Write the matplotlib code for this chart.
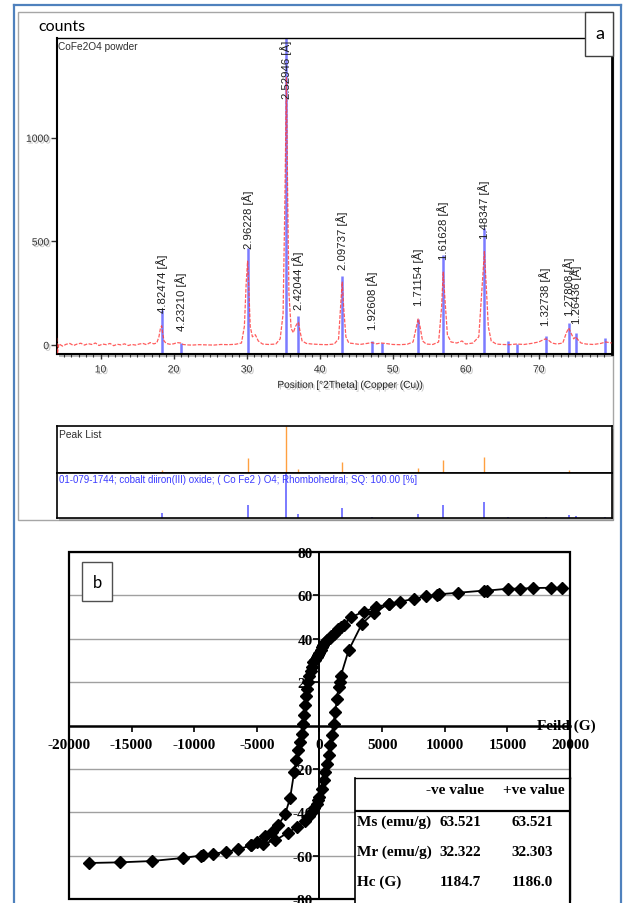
import matplotlib
matplotlib.use('Agg')
import matplotlib.pyplot as plt
import matplotlib.patheffects as pe
from matplotlib.patches import Rectangle
from matplotlib.lines import Line2D

plt.rcParams['axes.unicode_minus'] = False

# ---- panel a : XRD of CoFe2O4 powder ----
# observed pattern (2theta, counts), read off the picture
trace_2theta = [4.0, 4.1, 4.3, 4.8, 5.3, 5.8, 6.3, 6.8, 7.3, 7.8, 8.3, 8.8, 9.3, 9.8, 10.3, 10.8,
                11.3, 11.8, 12.3, 12.8, 13.3, 13.8, 14.3, 14.8, 15.3, 15.8, 16.3, 16.8, 17.3, 17.7,
                18.0, 18.2, 18.37, 18.5, 18.7, 19.0, 19.5, 20.0, 20.5, 20.98, 21.3, 21.8, 22.5, 23.5,
                24.5, 25.5, 26.5, 27.5, 28.5, 29.3, 29.7, 29.95, 30.14, 30.3, 30.5, 30.8, 31.2, 31.6,
                32.2, 33.0, 34.0, 34.6, 35.0, 35.25, 35.46, 35.6, 35.8, 36.1, 36.4, 36.7, 36.95, 37.11,
                37.3, 37.6, 38.2, 39.0, 40.0, 41.0, 42.0, 42.6, 42.9, 43.1, 43.3, 43.6, 44.0, 44.5,
                45.5, 46.5, 47.15, 47.8, 48.4, 49.0, 50.0, 51.0, 52.0, 52.8, 53.2, 53.49, 53.75, 54.1,
                54.6, 55.5, 56.3, 56.7, 56.93, 57.15, 57.5, 58.0, 58.8, 59.5, 60.0, 61.0, 61.8, 62.2,
                62.57, 62.8, 63.1, 63.5, 64.2, 65.0, 66.0, 67.0, 68.0, 69.0, 70.0, 70.6, 70.94, 71.3,
                71.8, 72.5, 73.3, 73.8, 74.12, 74.4, 74.8, 75.07, 75.4, 75.8, 76.5, 77.5, 78.5, 79.2, 80.0]
trace_counts = [35, -40, 6, -5, 4, 8, -2, 5, 9, 0, 7, 3, 10, -2, 5, 2,
                8, -3, 4, 1, 6, -2, 3, 0, 5, 8, 2, 12, 6, 10,
                40, 80, 93, 60, 20, 8, 4, 6, 12, 10, 3, 1, 0, 2,
                1, 0, 3, 2, 4, 10, 90, 300, 405, 280, 90, 40, 50, 20,
                5, 3, 5, 30, 150, 700, 1290, 800, 250, 80, 60, 90, 105, 110,
                70, 20, 8, 5, 3, 2, 5, 30, 200, 304, 180, 40, 10, 8,
                3, 8, 12, 6, 10, 8, 3, 2, 4, 15, 80, 126, 90, 20,
                5, 3, 15, 180, 352, 230, 50, 15, 10, 20, 5, 10, 40, 250,
                451, 300, 90, 20, 5, 3, 2, 5, 3, 8, 15, 25, 30, 25,
                10, 5, 10, 60, 82, 60, 30, 40, 25, 10, 5, 3, 8, 15, 10]

# labelled peaks
peak_pos = [18.37, 20.98, 30.14, 35.46, 37.11, 43.10, 47.15, 53.49, 56.93, 62.57, 70.94, 74.12, 75.07]
peak_h = [93, 10, 405, 1290, 110, 304, 12, 126, 352, 451, 30, 82, 40]
peak_d = ['4.82474', '4.23210', '2.96228', '2.52946', '2.42044', '2.09737', '1.92608',
          '1.71154', '1.61628', '1.48347', '1.32738', '1.27808', '1.26436']

# reference pattern 01-079-1744
ref_pos = [18.37, 20.98, 30.14, 35.46, 37.11, 43.10, 47.15, 48.6, 53.49, 56.93, 62.57,
           65.84, 67.0, 70.94, 74.12, 75.07, 79.1]
ref_h = [170, 8, 468, 1560, 140, 333, 21, 10, 126, 436, 565, 19, 5, 43, 106, 58, 34]

# ---- panel b : hysteresis loop ----
H_dn = [19400, 18460, 17070, 16000, 15070, 13390, 13120, 11040, 9520, 9390, 8540, 7520, 6460,
        5520, 4540, 3520, 2550, 1920, 1700, 1500, 1300, 1120, 950, 800, 620, 456, 300, 190, 90,
        0, -100, -210, -340, -480, -600, -690, -800, -880, -970, -1064, -1150, -1224, -1300,
        -1420, -1544, -1680, -1864, -2024, -2344, -2750, -3280, -3800, -4344, -5000, -5490,
        -6480, -7490, -8480, -9330, -9490, -10930, -13410, -15944, -18400]
M_dn = [63.5, 63.5, 63.4, 63.1, 63.1, 62.2, 62.2, 61.2, 60.5, 60.3, 59.6, 58.4, 57.1,
        56.1, 54.6, 52.5, 50.0, 46.5, 45.4, 44.3, 43.1, 42.0, 41.2, 40.3, 39.3, 38.4, 37.2, 36.1, 34.8,
        33.5, 32.3, 31.5, 30.3, 29.2, 27.0, 25.3, 23.0, 20.0, 17.0, 13.8, 9.5, 5.0, 0.6,
        -4.0, -7.7, -11.5, -15.8, -21.5, -33.4, -41.0, -45.8, -49.0, -51.0, -53.5, -55.3,
        -57.1, -58.3, -59.1, -59.9, -60.0, -61.1, -62.5, -63.1, -63.4]
H_up = [-5490, -4530, -3544, -2550, -1800, -1144, -800, -610, -400, -210, -100, 0, 190, 320,
        456, 590, 720, 856, 990, 1120, 1256, 1390, 1520, 1600, 1710, 2320, 3390, 4320, 5520]
M_up = [-55.3, -54.5, -53.0, -49.5, -46.8, -44.0, -41.8, -40.0, -38.2, -36.0, -34.5, -33.0, -29.2, -25.3,
        -21.5, -17.6, -13.8, -9.2, -4.6, 0.8, 6.2, 12.3, 17.7, 20.0, 23.0, 34.6, 46.9, 51.9, 56.1]

tbl_cols = ['-ve value', '+ve value']
tbl_rows = ['Ms (emu/g)', 'Mr (emu/g)', 'Hc (G)']
tbl_neg = ['63.521', '32.322', '1184.7']
tbl_pos = ['63.521', '32.303', '1186.0']

W, H = 630, 904


def fx(px):
    return px / W


def fy(py):
    return 1 - py / H


fig = plt.figure(figsize=(6.3, 9.04), dpi=100)

# outer blue frame
blue = '#4f81bd'
fig.add_artist(Line2D([fx(14), fx(14)], [fy(6), 0], color=blue, lw=1.6, zorder=5))
fig.add_artist(Line2D([fx(621), fx(621)], [fy(6), 0], color=blue, lw=1.6, zorder=5))
fig.add_artist(Line2D([fx(14), fx(621)], [fy(6), fy(6)], color=blue, lw=1.6, zorder=5))

# panel a background box
fig.add_artist(Rectangle((fx(18), fy(521)), (613 - 18) / W, (521 - 13) / H, transform=fig.transFigure,
                         fc='white', ec='#a6a6a6', lw=1, zorder=-3))
# drop shadows
for top, bot in [(39.3, 355), (427.3, 519)]:
    fig.add_artist(Rectangle((fx(59), fy(bot + 3)), 555 / W, (bot - top) / H, transform=fig.transFigure,
                             fc='#8c8c8c', ec='none', alpha=0.6, zorder=-2))

fig.text(fx(38), fy(27), 'counts', fontsize=11.5, family='Lato', ha='left', va='center')
fig.add_artist(Rectangle((fx(585), fy(57)), 28 / W, 44 / H, transform=fig.transFigure,
                         fc='white', ec='#404040', lw=1, zorder=2))
fig.text(fx(599.5), fy(34), 'a', fontsize=13, family='Lato', ha='center', va='center', zorder=3)

shadow = [pe.withSimplePatchShadow(offset=(1.2, -1.2), shadow_rgbFace='#777777', alpha=0.45)]

ax1 = fig.add_axes([fx(56.7), fy(355), 555 / W, (355 - 39.3) / H])
y_top = 1480
ax1.set_xlim(4, 80)
ax1.set_ylim(-43, y_top)
ax1.vlines(ref_pos, -43, ref_h, color='#5a5aff', lw=1.8, alpha=0.8, zorder=2)
ax1.plot(trace_2theta, trace_counts, color='#ff4040', lw=0.9, alpha=0.85,
         linestyle=(0, (3, 1.2)), zorder=3)
for x, h, d in zip(peak_pos, peak_h, peak_d):
    y = h + 65
    if y + 320 > y_top:
        ax1.text(x, y_top - 5, d + ' [Å]', rotation=90, ha='center', va='top', fontsize=8.2,
                 family='Liberation Sans', color='#202020', zorder=4)
    else:
        ax1.text(x, y, d + ' [Å]', rotation=90, ha='center', va='bottom', fontsize=8.2,
                 family='Liberation Sans', color='#202020', zorder=4)
ax1.text(0.003, 0.992, 'CoFe2O4 powder', transform=ax1.transAxes, ha='left', va='top',
         fontsize=7.3, family='Liberation Sans', color='#303030')
ax1.set_xticks(range(10, 71, 10))
ax1.set_xticks(range(5, 80), minor=True)
ax1.set_yticks([0, 500, 1000])
ax1.tick_params(axis='x', which='major', length=3.5, width=1, pad=4, labelsize=7.5, colors='#333333')
ax1.tick_params(axis='x', which='minor', length=1.8, width=0.8, colors='#333333')
ax1.tick_params(axis='y', length=4, width=1, pad=1.5, labelsize=7.5, colors='#333333')
ax1.set_xlabel('Position [°2Theta] (Copper (Cu))', fontsize=7.3, family='Liberation Sans', color='#222222')
ax1.xaxis.set_label_coords((350 - 56.7) / 555, -0.082)
for lbl in ax1.get_xticklabels() + ax1.get_yticklabels() + [ax1.xaxis.label]:
    lbl.set_family('Liberation Sans')
    lbl.set_path_effects(shadow)
ax1.spines['left'].set_linewidth(1.5)
ax1.spines['bottom'].set_linewidth(1.5)
ax1.spines['top'].set_linewidth(1)
ax1.spines['right'].set_linewidth(2)

# peak list boxes
ax2 = fig.add_axes([fx(56.7), fy(474), 555 / W, (474 - 427.3) / H])
ax2.set_xlim(4, 80)
ax2.set_ylim(0, max(peak_h))
ax2.vlines(peak_pos, 0, peak_h, color='#ffa040', lw=1)
ax2.text(0.004, 0.95, 'Peak List', transform=ax2.transAxes, ha='left', va='top', fontsize=7.4,
         family='Liberation Sans', color='#303030')

ax3 = fig.add_axes([fx(56.7), fy(519), 555 / W, 45 / H])
ax3.set_xlim(4, 80)
ax3.set_ylim(0, max(ref_h))
ax3.vlines(ref_pos, 0, ref_h, color='#6060ff', lw=1.3, alpha=0.9)
ax3.text(0.004, 0.97, '01-079-1744; cobalt diiron(III) oxide; ( Co Fe2 ) O4; Rhombohedral; SQ: 100.00 [%]',
         transform=ax3.transAxes, ha='left', va='top', fontsize=7.0, family='Liberation Sans', color='#3c3cff')
for a in (ax2, ax3):
    a.set_xticks([])
    a.set_yticks([])
    for s in a.spines.values():
        s.set_linewidth(1.2)

# ---- panel b ----
serif = dict(family='Liberation Serif', weight='bold')
ax4 = fig.add_axes([fx(69), fy(900), 501 / W, 347 / H])
ax4.set_xlim(-20000, 20000)
ax4.set_ylim(-80, 80)
ax4.spines['left'].set_position(('data', 0))
ax4.spines['bottom'].set_position(('data', 0))
ax4.spines['left'].set_linewidth(1.4)
ax4.spines['bottom'].set_linewidth(1.8)
ax4.spines['top'].set_visible(False)
ax4.spines['right'].set_visible(False)
ax4.add_patch(Rectangle((0, 0), 1, 1, transform=ax4.transAxes, fill=False, ec='black', lw=1.6,
                        clip_on=False, zorder=5))
ax4.set_xticks(range(-20000, 20001, 5000))
ax4.set_yticks([-80, -60, -40, -20, 20, 40, 60, 80])
ax4.yaxis.grid(True, color='#a0a0a0', lw=1)
ax4.set_axisbelow(True)
ax4.tick_params(axis='x', direction='out', length=4, width=1.2, pad=5, labelsize=11)
ax4.tick_params(axis='y', direction='out', length=4, width=1.2, pad=1, labelsize=11)
for lbl in ax4.get_xticklabels() + ax4.get_yticklabels():
    lbl.set_family('Liberation Serif')
    lbl.set_weight('bold')
ax4.plot(H_dn, M_dn, '-D', color='black', ms=6, lw=1.3, zorder=4)
ax4.plot(H_up, M_up, '-D', color='black', ms=6, lw=1.3, zorder=4)
ax4.text(17400, 0, 'Feild (G)', ha='left', va='center', fontsize=11, clip_on=False, **serif)

fig.add_artist(Rectangle((fx(81.7), fy(602.3)), (112.3 - 81.7) / W, (602.3 - 563.3) / H,
                         transform=fig.transFigure, fc='white', ec='#505050', lw=1, zorder=3))
fig.text(fx(97), fy(583), 'b', fontsize=12, family='Lato', ha='center', va='center', zorder=4)

# table of magnetic parameters
ax5 = fig.add_axes([fx(355), 0, (569.5 - 355) / W, (904 - 779.3) / H])
ax5.set_zorder(3)
ax5.set_facecolor('white')
ax5.set_xlim(0, 1)
ax5.set_ylim(0, 1)
ax5.set_xticks([])
ax5.set_yticks([])
ax5.spines['bottom'].set_visible(False)
ax5.spines['left'].set_linewidth(1.2)
ax5.spines['top'].set_linewidth(1)
ax5.spines['right'].set_linewidth(1.6)
ax5.axhline(0.74, color='black', lw=1.6)
ax5.text(0.467, 0.909, tbl_cols[0], ha='center', va='center', fontsize=11, **serif)
ax5.text(0.832, 0.909, tbl_cols[1], ha='center', va='center', fontsize=11, **serif)
for i, (r, vn, vp) in enumerate(zip(tbl_rows, tbl_neg, tbl_pos)):
    yy = [0.652, 0.411, 0.171][i]
    ax5.text(0.008, yy, r, ha='left', va='center', fontsize=11, **serif)
    ax5.text(0.49, yy, vn, ha='center', va='center', fontsize=11, **serif)
    ax5.text(0.827, yy, vp, ha='center', va='center', fontsize=11, **serif)

fig.savefig('out.png', dpi=100)
